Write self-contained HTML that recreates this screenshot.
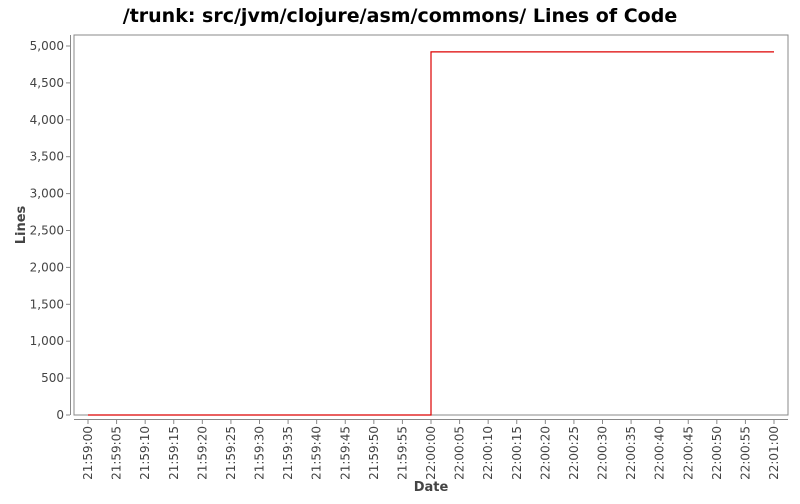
<!DOCTYPE html>
<html><head><meta charset="utf-8"><style>
body{margin:0;background:#fff;font-family:"DejaVu Sans","Liberation Sans",sans-serif;}
</style></head><body>
<svg id="chart" width="800" height="500" xmlns="http://www.w3.org/2000/svg">
<text x="400" y="22" text-anchor="middle" font-size="19" font-weight="bold" fill="#000">/trunk: src/jvm/clojure/asm/commons/ Lines of Code</text>
<rect x="74" y="35" width="714" height="380" fill="#fff" stroke="#888" stroke-width="1"/>
<line x1="70.5" y1="35" x2="70.5" y2="415" stroke="#888"/>
<line x1="74" y1="419.5" x2="788" y2="419.5" stroke="#888"/>
<g id="yticks"></g><g id="xticks"></g><g id="series"></g>
<text x="25" y="225" transform="rotate(-90 25 225)" text-anchor="middle" font-size="13" font-weight="bold" fill="#444">Lines</text>
<text x="431" y="491" text-anchor="middle" font-size="13" font-weight="bold" fill="#444">Date</text>
</svg>
<script>
const yTicks=[0,500,1000,1500,2000,2500,3000,3500,4000,4500,5000];
const xLabels=["21:59:00","21:59:05","21:59:10","21:59:15","21:59:20","21:59:25","21:59:30","21:59:35","21:59:40","21:59:45","21:59:50","21:59:55","22:00:00","22:00:05","22:00:10","22:00:15","22:00:20","22:00:25","22:00:30","22:00:35","22:00:40","22:00:45","22:00:50","22:00:55","22:01:00"];
const pointTimes=[0,60,120];
const pointValues=[0,4920,4920];
const NS="http://www.w3.org/2000/svg";
function ys(v){return 415-v*(369/5000);}
function xs(t){return 88+t*(686/120);}
function mk(tag,attrs,parent){const e=document.createElementNS(NS,tag);for(const k in attrs)e.setAttribute(k,attrs[k]);parent.appendChild(e);return e;}
const yg=document.getElementById('yticks');
yTicks.forEach(v=>{
  const y=ys(v);
  const l=mk('line',{x1:66,x2:70,y1:y,y2:y,stroke:'#888'},yg);
  
  
  const t=mk('text',{x:64,y:y+4,'text-anchor':'end','font-size':12,fill:'#444'},yg);
  t.textContent=v.toLocaleString('en-US');
  
  
});
const xg=document.getElementById('xticks');
xLabels.forEach((s,i)=>{
  const x=xs(i*5);
  const l=mk('line',{x1:x,x2:x,y1:420,y2:424,stroke:'#888'},xg);
  
  
  const t=mk('text',{x:x+4,y:426,'text-anchor':'end','font-size':12,fill:'#444',transform:`rotate(-90 ${x+4} 426)`},xg);
  t.textContent=s;
  
  
});
const sg=document.getElementById('series');
let d='';
pointTimes.forEach((t,i)=>{
  if(i===0)d+=`M${xs(t)},${ys(pointValues[i])}`;
  else d+=`H${xs(t)}V${ys(pointValues[i])}`;
});
// step: hold previous value until next time, then jump
d='';
pointTimes.forEach((t,i)=>{
  if(i===0)d+=`M${xs(t)},${ys(pointValues[i])}`;
  else d+=`H${xs(t)}V${ys(pointValues[i])}`;
});
const p=mk('path',{d:d,fill:'none',stroke:'#d00',"stroke-width":1.2},sg);


</script>
</body></html>
